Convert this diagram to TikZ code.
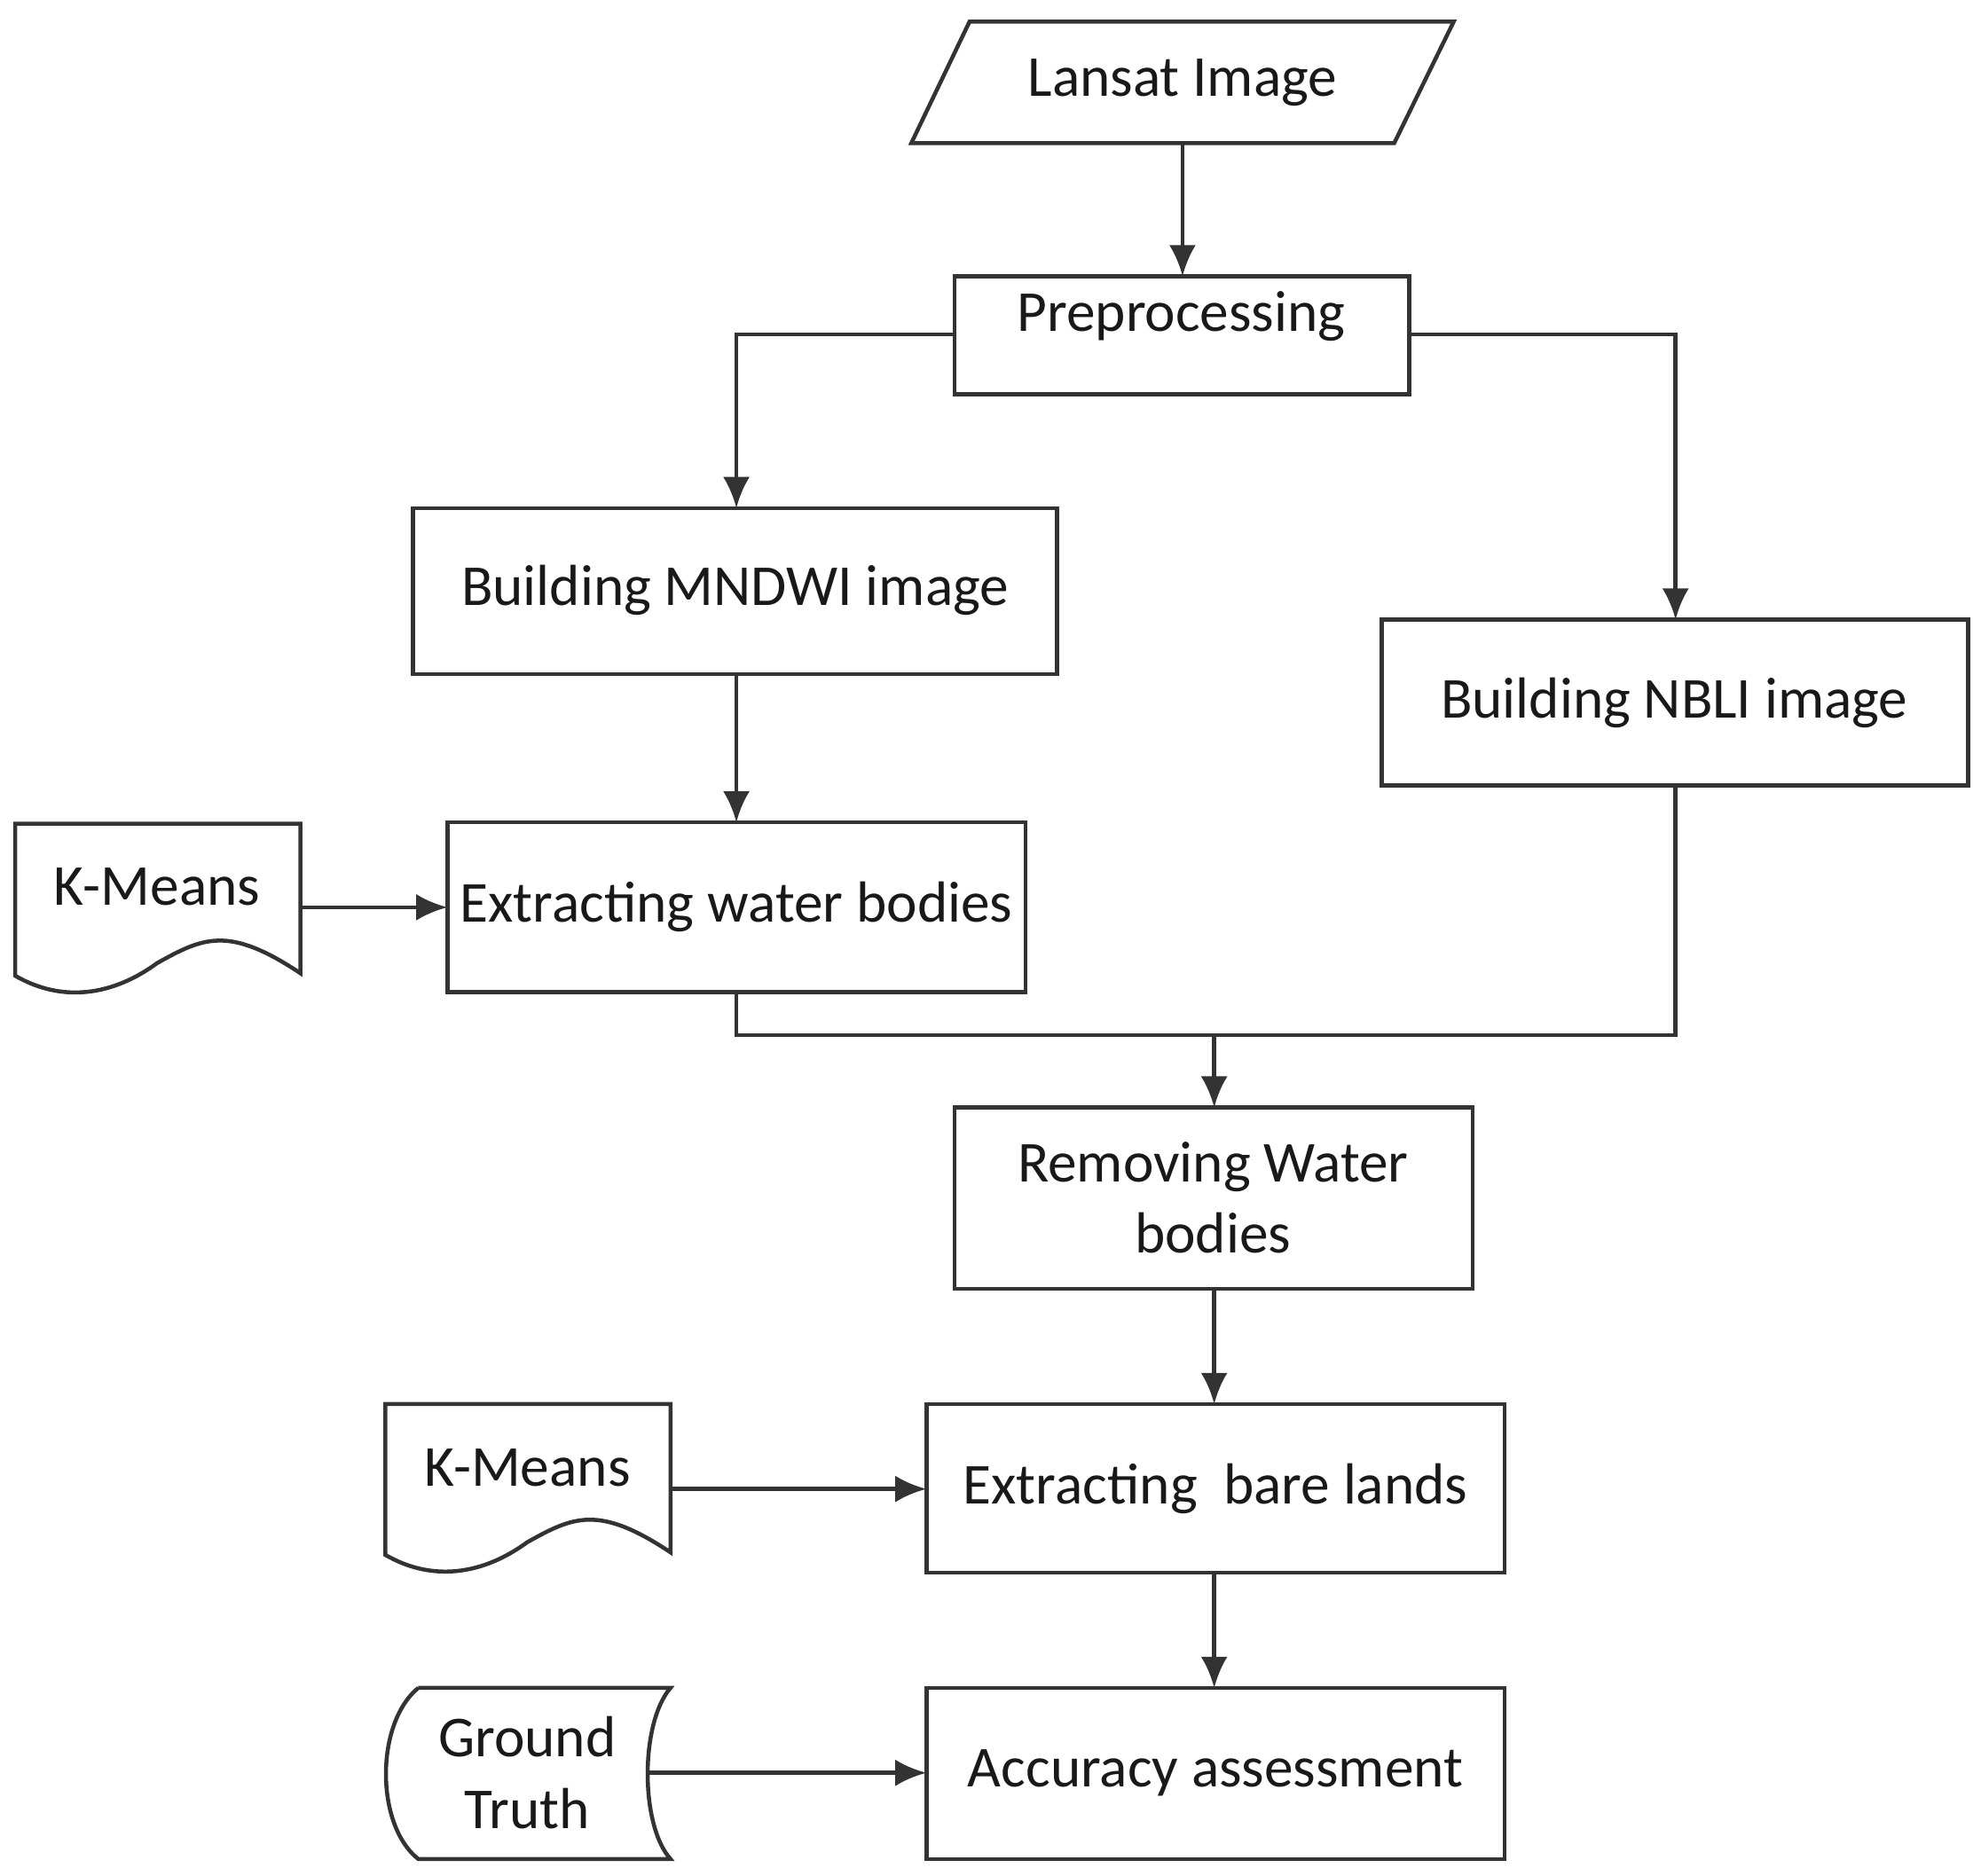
\documentclass[tikz,border=0pt]{standalone}
\usepackage{fontspec}
\setmainfont{Carlito}
\usetikzlibrary{arrows.meta,shapes.geometric}
\begin{document}
\begin{tikzpicture}[x=0.01cm,y=-0.01cm,
  ln/.style={draw=black!80,line width=0.9pt},
  ar/.style={ln,-{Latex[length=7pt,width=6pt]}},
  bx/.style={ln,fill=white},
  txt/.style={font=\fontsize{13}{16}\selectfont,align=center,text=black!90}]
\useasboundingbox (0,0) rectangle (1563,1480);
% Lansat
\draw[bx] (719,113)--(765,17)--(1147,17)--(1100,113)--cycle;
\node[txt] (lan) at (933,65) {Lansat Image};
\coordinate (lanb) at (933,113);
% Preprocessing
\draw[bx] (753,218) rectangle (1112,311);
\node[txt] (pre) at (932,250) {Preprocessing};
\coordinate (pret) at (933,218);
\coordinate (prel) at (753,264);
\coordinate (prer) at (1112,264);
% MNDWI
\draw[bx] (326,401) rectangle (834,532);
\node[txt] (mnd) at (580,466) {Building MNDWI image};
\coordinate (mndt) at (581,401);
\coordinate (mndb) at (581,532);
% NBLI
\draw[bx] (1090,489) rectangle (1553,620);
\node[txt] (nbl) at (1321,555) {Building NBLI image};
\coordinate (nblt) at (1322,489);
\coordinate (nblb) at (1322,620);
% Extracting water
\draw[bx] (353,649) rectangle (809,783);
\node[txt] (ew) at (581,716) {Extracting water bodies};
\coordinate (ewt) at (581,649);
\coordinate (ewl) at (353,716);
\coordinate (ewb) at (581,783);
% K-Means 1
\draw[bx] (12,650)--(237,650)--(237,768) .. controls (180,730) and (160,740) .. (124,760) .. controls (90,785) and (50,792) .. (12,770) -- cycle;
\node[txt] (km1) at (124,700) {K-Means};
\coordinate (km1r) at (237,716);
% junction
\coordinate (j1) at (581,817);
\coordinate (j2) at (1322,817);
\coordinate (j3) at (958,817);
% Removing
\draw[bx] (753,874) rectangle (1162,1017);
\node[txt] (rem) at (957,945) {Removing Water\\bodies};
\coordinate (remt) at (958,874);
\coordinate (remb) at (958,1017);
% Extracting bare
\draw[bx] (731,1108) rectangle (1187,1241);
\node[txt] (eb) at (959,1175) {Extracting\ \ bare lands};
\coordinate (ebt) at (958,1108);
\coordinate (ebl) at (731,1175);
\coordinate (ebb) at (958,1241);
% K-Means 2
\draw[bx] (304,1108)--(529,1108)--(529,1225) .. controls (472,1187) and (452,1197) .. (416,1217) .. controls (382,1242) and (342,1249) .. (304,1227) -- cycle;
\node[txt] (km2) at (416,1158) {K-Means};
\coordinate (km2r) at (529,1175);
% Accuracy
\draw[bx] (731,1332) rectangle (1187,1467);
\node[txt] (acc) at (959,1399) {Accuracy assessment};
\coordinate (acct) at (958,1332);
\coordinate (accl) at (731,1399);
% Ground truth
\draw[bx] (330,1332)--(529,1332) .. controls (505,1360) and (505,1440) .. (529,1467) -- (330,1467) .. controls (296,1440) and (296,1360) .. (330,1332);
\node[txt] (gt) at (416,1399) {Ground\\Truth};
\coordinate (gtr) at (511,1399);
% connectors
\draw[ar] (lanb) -- (pret);
\draw[ar] (prel) -| (mndt);
\draw[ar] (prer) -| (nblt);
\draw[ar] (mndb) -- (ewt);
\draw[ar] (km1r) -- (ewl);
\draw[ln] (ewb) -- (j1) -- (j2) -- (nblb);
\draw[ar] (j3) -- (remt);
\draw[ar] (remb) -- (ebt);
\draw[ar] (km2r) -- (ebl);
\draw[ar] (ebb) -- (acct);
\draw[ar] (gtr) -- (accl);
\end{tikzpicture}
\end{document}
